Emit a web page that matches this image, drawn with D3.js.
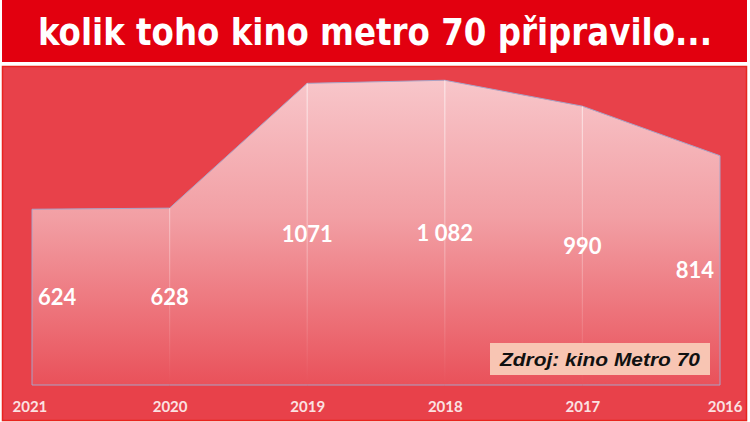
<!DOCTYPE html>
<html><head><meta charset="utf-8">
<script src="https://cdn.jsdelivr.net/npm/d3@7/dist/d3.min.js"></script>
<style>html,body{margin:0;padding:0;background:#fff;}svg{display:block;}</style>
</head><body>
<svg id="c" width="750" height="422"></svg>
<script>
const years = ["2021","2020","2019","2018","2017","2016"];
const visitors = [624, 628, 1071, 1082, 990, 814];
const valueLabels = ["624","628","1071","1 082","990","814"];
const titleText = "kolik toho kino metro 70 připravilo...";
const sourceText = "Zdroj: kino Metro 70";

const svg = d3.select("#c");
const defs = svg.append("defs");

// title bar
svg.append("rect").attr("x",2).attr("y",0).attr("width",745).attr("height",62).attr("fill","#e2000f");
svg.append("text").attr("x",375).attr("y",45).attr("text-anchor","middle")
  .attr("font-family","'Liberation Sans Narrow','DejaVu Sans Condensed','Liberation Sans',sans-serif")
  .attr("font-weight","bold").attr("font-size",38).attr("fill","#fff")
  .attr("textLength",674).attr("lengthAdjust","spacingAndGlyphs")
  .text(titleText);

// chart panel
svg.append("rect").attr("x",2.5).attr("y",66.5).attr("width",744).attr("height",354)
  .attr("fill","#e8414a").attr("stroke","#e8241f").attr("stroke-width",1.5);

const x = d3.scalePoint().domain(years).range([32, 720]);
const y = d3.scaleLinear().domain([0, 1200]).range([385, 47]);

const grad = defs.append("linearGradient").attr("id","ag")
  .attr("gradientUnits","userSpaceOnUse").attr("x1",0).attr("x2",0)
  .attr("y1",y(1082)).attr("y2",y(0));
grad.append("stop").attr("offset","0").attr("stop-color","#f8c6ca");
grad.append("stop").attr("offset","0.45").attr("stop-color","#f29fa4");
grad.append("stop").attr("offset","1").attr("stop-color","#e9515a");

const data = years.map((yr,i)=>({yr, v:visitors[i], lab:valueLabels[i]}));

const area = d3.area().x(d=>x(d.yr)).y0(y(0)).y1(d=>y(d.v));
svg.append("path").datum(data).attr("d",area)
  .attr("fill","url(#ag)").attr("stroke","#a9a3c6").attr("stroke-width",1);

// drop lines
const dg = defs.append("linearGradient").attr("id","dg")
  .attr("gradientUnits","userSpaceOnUse").attr("x1",0).attr("x2",0)
  .attr("y1",y(1082)).attr("y2",y(0));
dg.append("stop").attr("offset","0").attr("stop-color","#fff").attr("stop-opacity",0.55);
dg.append("stop").attr("offset","0.6").attr("stop-color","#fff").attr("stop-opacity",0.25);
dg.append("stop").attr("offset","1").attr("stop-color","#fff").attr("stop-opacity",0);
svg.selectAll(".drop").data(data.slice(1,-1)).join("line")
  .attr("x1",d=>x(d.yr)).attr("x2",d=>x(d.yr))
  .attr("y1",d=>y(d.v)).attr("y2",y(0))
  .attr("stroke","url(#dg)").attr("stroke-width",1.2);

// value labels (centred vertically in the area)
const n = data.length;
svg.selectAll(".vl").data(data).join("text")
  .attr("x",(d,i)=> i===0 ? x(d.yr)+6 : i===n-1 ? x(d.yr)-6 : x(d.yr))
  .attr("y",d=> (y(d.v)+y(0))/2 + 8)
  .attr("text-anchor",(d,i)=> i===0 ? "start" : i===n-1 ? "end" : "middle")
  .attr("font-family","Lato,'Open Sans',sans-serif").attr("font-weight","bold")
  .attr("font-size",22).attr("fill","#fff")
  .text(d=>d.lab);

// x axis labels
const ax = svg.append("g").attr("transform","translate(0,401)")
  .call(d3.axisBottom(x).tickSize(0).tickPadding(0));
ax.select(".domain").remove();
ax.selectAll("text").attr("font-family","Lato,'Open Sans',sans-serif")
  .attr("font-weight","bold").attr("font-size",15).attr("fill","#fbe2e2")
  .attr("dy","0.71em")
  .attr("text-anchor",(d,i)=> i===0 ? "start" : i===n-1 ? "end" : "middle")
  .attr("dx",(d,i)=> i===0 ? -20 : i===n-1 ? 22 : 0);

// source box
svg.append("rect").attr("x",490).attr("y",343).attr("width",220).attr("height",32).attr("fill","#f8c5b3");
svg.append("text").attr("x",600).attr("y",366).attr("text-anchor","middle")
  .attr("font-family","'Liberation Sans',Arial,sans-serif").attr("font-weight","bold")
  .attr("font-style","italic").attr("font-size",19).attr("fill","#111")
  .attr("textLength",200).attr("lengthAdjust","spacingAndGlyphs")
  .text(sourceText);
</script>
</body></html>
